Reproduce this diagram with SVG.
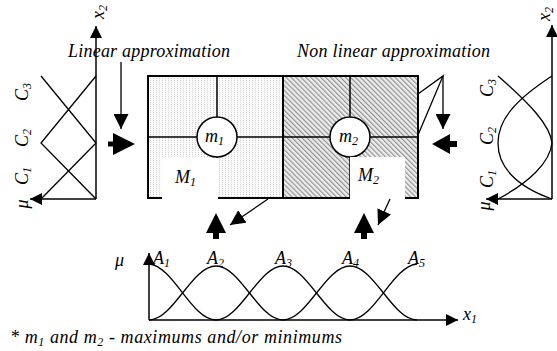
<svg xmlns="http://www.w3.org/2000/svg" width="557" height="351" viewBox="0 0 557 351">
<style>
.t{font-family:"Liberation Serif","Times New Roman","DejaVu Serif",serif;font-style:italic;font-size:18px;fill:#000}
.s{font-size:12px}
.ln{fill:none;stroke:#000;stroke-width:1.3}
.ax{fill:none;stroke:#000;stroke-width:1.5}
.big{fill:#000}
</style>
<defs>
<pattern id="dots" width="3" height="2" patternUnits="userSpaceOnUse"><rect width="3" height="2" fill="#fcfcfc"/><rect width="1" height="1" fill="#d0d0d0"/></pattern>
<pattern id="hatch" width="3.5" height="3.5" patternUnits="userSpaceOnUse" patternTransform="rotate(-45)"><rect width="3.5" height="3.5" fill="#ececec"/><line x1="0.6" y1="0" x2="0.6" y2="3.5" stroke="#8c8c8c" stroke-width="1.1"/></pattern>
<marker id="ah" markerUnits="userSpaceOnUse" markerWidth="12" markerHeight="12" refX="12" refY="6" orient="auto"><path d="M0,0 L12,6 L0,12 z" fill="#000"/></marker>
<marker id="ah2" markerUnits="userSpaceOnUse" markerWidth="15" markerHeight="15" refX="15" refY="7.5" orient="auto"><path d="M0,0 L15,7.5 L0,15 z" fill="#000"/></marker>
</defs>
<rect width="557" height="351" fill="#fff"/>

<g id="main-grid">
<rect x="148" y="76" width="135" height="122" fill="url(#dots)"/>
<rect x="283" y="76" width="135" height="122" fill="url(#hatch)"/>
<line x1="148" y1="137" x2="418" y2="137" stroke="#000" stroke-width="1.5"/>
<line x1="217" y1="76" x2="217" y2="198" stroke="#000" stroke-width="1.5"/>
<line x1="350" y1="76" x2="350" y2="198" stroke="#000" stroke-width="1.5"/>
<line x1="283" y1="76" x2="283" y2="198" stroke="#000" stroke-width="2"/>
<rect x="148" y="76" width="270" height="122" fill="none" stroke="#000" stroke-width="2"/>
</g>

<g id="node-m1">
<circle cx="217" cy="137" r="20" fill="#fff" stroke="#000" stroke-width="1.5"/>
<text class="t" x="205" y="142">m<tspan class="s" dy="3">1</tspan></text>
</g>
<g id="node-m2">
<circle cx="350" cy="137" r="20" fill="#fff" stroke="#000" stroke-width="1.5"/>
<text class="t" x="339" y="142">m<tspan class="s" dy="3">2</tspan></text>
</g>
<g id="node-M1">
<rect x="162" y="158" width="56" height="42" fill="#fff"/>
<text class="t" x="175" y="183">M<tspan class="s" dy="3">1</tspan></text>
</g>
<g id="node-M2">
<rect x="350" y="157" width="55" height="43" fill="#fff"/>
<text class="t" x="358" y="181">M<tspan class="s" dy="3">2</tspan></text>
</g>

<g id="left-chart">
<line class="ax" x1="96" y1="199" x2="96" y2="26" marker-end="url(#ah)"/>
<line class="ax" x1="96" y1="199" x2="30" y2="199" marker-end="url(#ah)"/>
<polyline class="ln" points="41,76 96,143"/>
<polyline class="ln" points="96,76 41,143 96,199"/>
<polyline class="ln" points="96,143 41,199"/>
<text class="t" transform="translate(104,12) rotate(-90)" text-anchor="middle">x<tspan class="s" dy="3">2</tspan></text>
<text class="t" transform="translate(28,92) rotate(-90)" text-anchor="middle">C<tspan class="s" dy="3">3</tspan></text>
<text class="t" transform="translate(28,138) rotate(-90)" text-anchor="middle">C<tspan class="s" dy="3">2</tspan></text>
<text class="t" transform="translate(28,176) rotate(-90)" text-anchor="middle">C<tspan class="s" dy="3">1</tspan></text>
<text class="t" transform="translate(28,204) rotate(-90)" text-anchor="middle" font-size="20">μ</text>
</g>

<g id="right-chart">
<line class="ax" x1="552" y1="199" x2="552" y2="25" marker-end="url(#ah)"/>
<line class="ax" x1="552" y1="199" x2="486" y2="199" marker-end="url(#ah)"/>
<path class="ln" d="M498,76 C530,104 550,125 552,143"/>
<path class="ln" d="M552,76 C515,100 498,120 498,143 C498,166 515,186 552,199"/>
<path class="ln" d="M552,143 C550,162 530,182 498,199"/>
<text class="t" transform="translate(550,14) rotate(-90)" text-anchor="middle">x<tspan class="s" dy="3">2</tspan></text>
<text class="t" transform="translate(493,88) rotate(-90)" text-anchor="middle">C<tspan class="s" dy="3">3</tspan></text>
<text class="t" transform="translate(493,136) rotate(-90)" text-anchor="middle">C<tspan class="s" dy="3">2</tspan></text>
<text class="t" transform="translate(493,179) rotate(-90)" text-anchor="middle">C<tspan class="s" dy="3">1</tspan></text>
<text class="t" transform="translate(490,206) rotate(-90)" text-anchor="middle" font-size="20">μ</text>
</g>

<g id="bottom-chart">
<line class="ax" x1="149" y1="320" x2="149" y2="253" marker-end="url(#ah)"/>
<line class="ax" x1="149" y1="320" x2="458" y2="320" marker-end="url(#ah)"/>
<path class="ln" d="M149,264 C173.4,266 191.6,320 216,320"/>
<path class="ln" d="M149,320 C173.4,320 191.6,266 216,266 C240.4,266 258.6,320 283,320"/>
<path class="ln" d="M216,320 C240.4,320 258.6,266 283,266 C307.4,266 325.6,320 350,320"/>
<path class="ln" d="M283,320 C307.4,320 325.6,266 350,266 C374.4,266 392.6,320 417,320"/>
<path class="ln" d="M350,320 C374.4,320 392.6,266 417,264"/>
<text class="t" x="115" y="266" font-size="20">μ</text>
<text class="t" x="153" y="264">A<tspan class="s" dy="3">1</tspan></text>
<text class="t" x="207" y="264">A<tspan class="s" dy="3">2</tspan></text>
<text class="t" x="275" y="264">A<tspan class="s" dy="3">3</tspan></text>
<text class="t" x="342" y="264">A<tspan class="s" dy="3">4</tspan></text>
<text class="t" x="408" y="264">A<tspan class="s" dy="3">5</tspan></text>
<text class="t" x="463" y="320">x<tspan class="s" dy="3">1</tspan></text>
</g>

<g id="labels">
<text class="t" x="68" y="57" textLength="162" lengthAdjust="spacing">Linear approximation</text>
<text class="t" x="297" y="57" textLength="193" lengthAdjust="spacing">Non linear approximation</text>
<text class="t" x="10" y="343" font-size="19" textLength="332" lengthAdjust="spacing">* m<tspan class="s" dy="3">1</tspan><tspan dy="-3"> and m</tspan><tspan class="s" dy="3">2</tspan><tspan dy="-3"> - maximums and/or minimums</tspan></text>
</g>

<g id="connectors">
<line class="ln" x1="121" y1="62" x2="121" y2="129" marker-end="url(#ah2)"/>
<polyline class="ln" points="418,94 443,76 418,135"/>
<line class="ln" x1="443" y1="76" x2="443" y2="129" marker-end="url(#ah2)"/>
<line class="ln" x1="268" y1="199" x2="230" y2="225" marker-end="url(#ah2)"/>
<line class="ln" x1="390" y1="199" x2="378" y2="225" marker-end="url(#ah2)"/>
<polygon class="big" points="108,141.5 113,141.5 113,133 135,144 113,155 113,146.5 108,146.5"/>
<polygon class="big" points="432,144 450,134 450,141 457,141 457,147 450,147 450,154"/>
<polygon class="big" points="216,213 226,233 219,233 219,239 213,239 213,233 206,233"/>
<polygon class="big" points="364,213 374,233 367,233 367,239 361,239 361,233 354,233"/>
</g>
</svg>
